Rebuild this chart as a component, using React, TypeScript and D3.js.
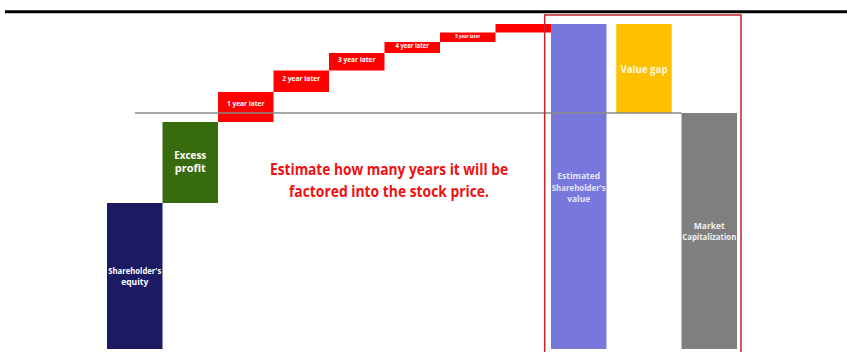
import React from "react";
import * as d3 from "d3";

const stepCategories = ["equity", "excess", "y1", "y2", "y3", "y4", "y5", "y6"];
const stepValues = [146, 81, 30, 21.5, 17.5, 11, 9.5, 8.5];
const stepColors = ["#1b1a63", "#386b0d", "#ff0000", "#ff0000", "#ff0000", "#ff0000", "#ff0000", "#ff0000"];
const stepLabels = [["Shareholder's", "equity"], ["Excess", "profit"], ["1 year later"], ["2 year later"], ["3 year later"], ["4 year later"], ["5 year later"], []];

const rightCategories = ["estimated", "gap", "market"];
const marketCap = 236;
const estimatedValue = stepValues.reduce((a, b) => a + b, 0);
const rightColors = ["#7878dc", "#ffc000", "#7f7f7f"];
const rightLabels = [["Estimated", "Shareholder's", "value"], ["Value gap"], ["Market", "Capitalization"]];

const noteLines = ["Estimate how many years it will be", "factored into the stock price."];

export default function App() {
  const W = 847, H = 352;
  const y = d3.scaleLinear().domain([0, 330]).range([349, 19]);
  const xl = d3.scaleBand().domain(stepCategories).range([107, 551]).paddingInner(0).paddingOuter(0);
  const xr = d3.scaleBand().domain(rightCategories).range([551, 737]).paddingInner(0.15).paddingOuter(0);

  let cum = 0;
  const steps = stepValues.map((v, i) => {
    const start = cum;
    cum += v;
    return { key: stepCategories[i], start, end: cum, color: stepColors[i], label: stepLabels[i] };
  });

  const right = [
    { key: "estimated", start: 0, end: estimatedValue },
    { key: "gap", start: marketCap, end: estimatedValue },
    { key: "market", start: 0, end: marketCap },
  ];

  const yearFont = [7.5, 7.5, 7.5, 6.6, 5];
  const yearLen = [37.5, 38, 37.5, 33.5, 25];

  return (
    <svg width={W} height={H} style={{ position: "fixed", left: 0, top: 0 }} fontFamily="'Liberation Sans Narrow', 'Open Sans', sans-serif">
      <rect x={0} y={0} width={W} height={H} fill="#fff" />
      <line x1={5} x2={W} y1={11.8} y2={11.8} stroke="#000" strokeWidth={3} />
      {steps.map((s, i) => {
        const x0 = xl(s.key)!;
        const bw = xl.bandwidth();
        const top = y(s.end), bot = y(s.start);
        return <rect key={s.key} x={x0} y={top} width={bw} height={bot - top} fill={s.color} />;
      })}
      {right.map((r, i) => {
        const top = y(r.end), bot = y(r.start);
        return <rect key={r.key} x={xr(r.key)!} y={top} width={xr.bandwidth()} height={bot - top} fill={rightColors[i]} />;
      })}
      <line x1={135} x2={xr("market")!} y1={y(marketCap)} y2={y(marketCap)} stroke="#8a8a8a" strokeWidth={1.5} />
      <rect x={544.7} y={15} width={196.3} height={345} fill="none" stroke="#c0262d" strokeWidth={1.5} />
      {steps.slice(2).map((s, i) => {
        if (!s.label.length) return null;
        const cx = xl(s.key)! + xl.bandwidth() / 2;
        const top = y(s.end), bot = y(s.start);
        return (
          <text key={"t" + s.key} x={cx} y={top + (bot - top) * 0.35} textAnchor="middle" dominantBaseline="central" fill="#fff" fontSize={yearFont[i]} fontWeight="bold" textLength={yearLen[i]} lengthAdjust="spacingAndGlyphs">
            {s.label[0]}
          </text>
        );
      })}
      <text textAnchor="middle" fill="#fff" fontWeight="bold" fontFamily="'Open Sans', sans-serif" fontSize={8.5}>
        <tspan x={xl("equity")! + xl.bandwidth() / 2} y={274} textLength={53} lengthAdjust="spacingAndGlyphs">{steps[0].label[0]}</tspan>
        <tspan x={xl("equity")! + xl.bandwidth() / 2} y={285}>{steps[0].label[1]}</tspan>
      </text>
      <text textAnchor="middle" fill="#fff" fontWeight="bold" fontFamily="'Open Sans', sans-serif" fontSize={11}>
        <tspan x={xl("excess")! + xl.bandwidth() / 2} y={158.5} textLength={32} lengthAdjust="spacingAndGlyphs">{steps[1].label[0]}</tspan>
        <tspan x={xl("excess")! + xl.bandwidth() / 2} y={172}>{steps[1].label[1]}</tspan>
      </text>
      <text textAnchor="middle" fill="#e4e4f8" fontWeight="bold" fontFamily="'Open Sans', sans-serif" fontSize={8.5}>
        {rightLabels[0].map((l, i) => (
          <tspan key={l} x={xr("estimated")! + xr.bandwidth() / 2} y={179 + i * 11.6} textLength={i === 1 ? 54 : undefined} lengthAdjust="spacingAndGlyphs">{l}</tspan>
        ))}
      </text>
      <text x={xr("gap")! + xr.bandwidth() / 2} y={73} textAnchor="middle" fill="#fff8e0" fontWeight="bold" fontFamily="'Open Sans', sans-serif" fontSize={11} textLength={47} lengthAdjust="spacingAndGlyphs">
        {rightLabels[1][0]}
      </text>
      <text textAnchor="middle" fill="#f0f0f0" fontWeight="bold" fontFamily="'Open Sans', sans-serif" fontSize={8.5}>
        {rightLabels[2].map((l, i) => (
          <tspan key={l} x={xr("market")! + xr.bandwidth() / 2} y={229 + i * 11.4} textLength={i === 1 ? 54 : undefined} lengthAdjust="spacingAndGlyphs">{l}</tspan>
        ))}
      </text>
      <text textAnchor="middle" fill="#ee1111" fontWeight="bold" fontFamily="'Open Sans', sans-serif" fontSize={15.5}>
        <tspan x={389} y={175} textLength={238} lengthAdjust="spacingAndGlyphs">{noteLines[0]}</tspan>
        <tspan x={389} y={197} textLength={200} lengthAdjust="spacingAndGlyphs">{noteLines[1]}</tspan>
      </text>
    </svg>
  );
}
